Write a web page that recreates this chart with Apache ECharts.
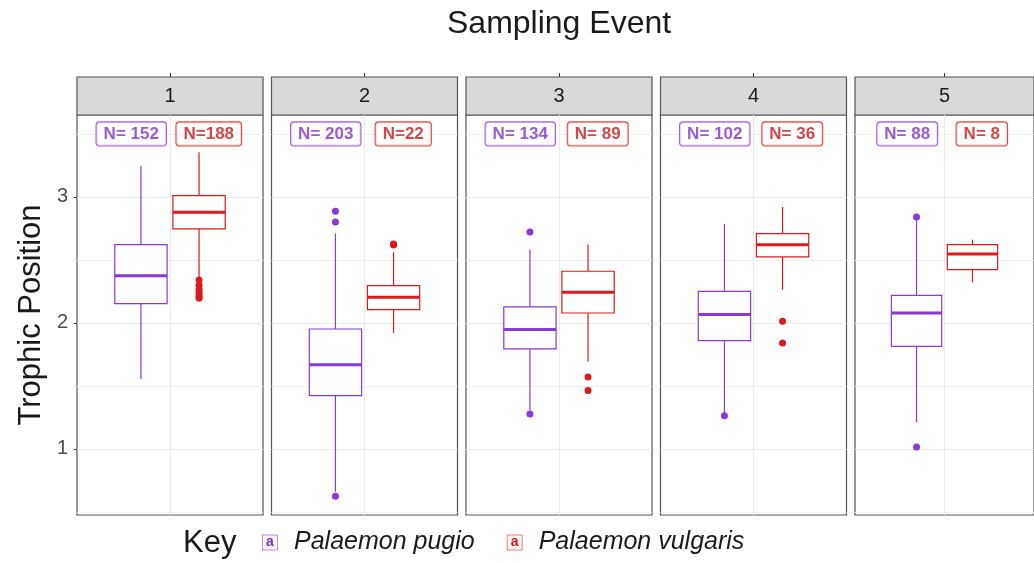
<!DOCTYPE html>
<html>
<head>
<meta charset="utf-8">
<script src="https://cdn.jsdelivr.net/npm/echarts@6/dist/echarts.min.js"></script>
<style>
  html, body { margin: 0; padding: 0; background: #ffffff; }
  #chart { width: 1034px; height: 563px; }
</style>
</head>
<body>
<div id="chart"></div>
<script>
// Facets (sampling events) and species
const events = ['1', '2', '3', '4', '5'];
const species = ['Palaemon pugio', 'Palaemon vulgaris'];

// Box summaries per event: [lower whisker, Q1, median, Q3, upper whisker]
const pugioBoxes = [
  [1.556, 2.153, 2.375, 2.621, 3.248],
  [0.660, 1.423, 1.669, 1.952, 2.709],
  [1.305, 1.794, 1.947, 2.127, 2.582],
  [1.285, 1.859, 2.066, 2.251, 2.786],
  [1.211, 1.814, 2.079, 2.219, 2.815]
];
const vulgarisBoxes = [
  [2.360, 2.746, 2.878, 3.010, 3.354],
  [1.920, 2.106, 2.203, 2.296, 2.560],
  [1.695, 2.079, 2.243, 2.410, 2.622],
  [2.264, 2.524, 2.621, 2.709, 2.920],
  [2.322, 2.423, 2.548, 2.621, 2.661]
];

// Outlying trophic positions per event
const pugioOutliers = [
  [],
  [2.886, 2.800, 0.624],
  [2.722, 1.278],
  [1.264],
  [2.841, 1.016]
];
const vulgarisOutliers = [
  [2.340, 2.300, 2.270, 2.250, 2.230, 2.210, 2.195],
  [2.627, 2.618],
  [1.571, 1.463],
  [2.013, 1.841],
  []
];

// Sample size labels
const pugioN = ['N= 152', 'N= 203', 'N= 134', 'N= 102', 'N= 88'];
const vulgarisN = ['N=188', 'N=22', 'N= 89', 'N= 36', 'N= 8'];

// Y axis ticks
const yTicks = [1, 2, 3];
const yMinorTicks = [0.5, 1.5, 2.5, 3.5];

// ---- layout and style ----
const FONT = '"Liberation Sans", Arial, Helvetica, sans-serif';
const PURPLE = '#8A38D6';
const RED = '#DC1A1C';
const PURPLE_TEXT = '#7E32C8';
const RED_TEXT = '#CC1619';
const PANEL_LEFT0 = 77, PANEL_STEP = 194.5, PANEL_W = 186;
const PANEL_TOP = 115, PANEL_H = 400;
const STRIP_TOP = 77, STRIP_H = 38;
const X_MIN = 0.4, X_MAX = 1.6;
const Y_MIN = 0.476, Y_MAX = 3.65;
const DODGE = 0.1875, BOX_WIDTH = 0.3375, LABEL_DODGE = 0.25, LABEL_Y = 3.5;
const BORDER = '#555555';

const colors = [PURPLE, RED];
const textColors = [PURPLE_TEXT, RED_TEXT];
const boxes = [pugioBoxes, vulgarisBoxes];
const outliers = [pugioOutliers, vulgarisOutliers];
const nLabels = [pugioN, vulgarisN];
const nPanels = events.length;

function renderBox(params, api) {
  const x = api.value(0);
  const lo = api.coord([x, api.value(1)]);
  const q1 = api.coord([x, api.value(2)]);
  const md = api.coord([x, api.value(3)]);
  const q3 = api.coord([x, api.value(4)]);
  const hi = api.coord([x, api.value(5)]);
  const w = api.size([BOX_WIDTH, 0])[0];
  const color = api.visual('color');
  const thin = { stroke: color, lineWidth: 1.2 };
  return {
    type: 'group',
    children: [
      { type: 'line', shape: { x1: lo[0], y1: lo[1], x2: q1[0], y2: q1[1] }, style: thin },
      { type: 'line', shape: { x1: q3[0], y1: q3[1], x2: hi[0], y2: hi[1] }, style: thin },
      { type: 'rect', shape: { x: q3[0] - w / 2, y: q3[1], width: w, height: q1[1] - q3[1] },
        style: { fill: '#ffffff', stroke: color, lineWidth: 1.2 } },
      { type: 'line', shape: { x1: md[0] - w / 2, y1: md[1], x2: md[0] + w / 2, y2: md[1] },
        style: { stroke: color, lineWidth: 3 } }
    ]
  };
}

const grid = [], xAxis = [], yAxis = [], series = [];

for (let i = 0; i < nPanels; i++) {
  const left = PANEL_LEFT0 + i * PANEL_STEP;
  // plotting panel
  grid.push({ left: left, top: PANEL_TOP, width: PANEL_W, height: PANEL_H,
    show: true, backgroundColor: '#ffffff', borderColor: BORDER, borderWidth: 1.2 });
}
for (let i = 0; i < nPanels; i++) {
  const left = PANEL_LEFT0 + i * PANEL_STEP;
  // facet strip
  grid.push({ left: left, top: STRIP_TOP, width: PANEL_W, height: STRIP_H,
    show: true, backgroundColor: '#d9d9d9', borderColor: BORDER, borderWidth: 1.2 });
}

for (let i = 0; i < nPanels; i++) {
  xAxis.push({
    gridIndex: i, type: 'value', min: X_MIN, max: X_MAX,
    axisLine: { show: false },
    axisTick: { show: false, customValues: [1] },
    axisLabel: { show: false },
    splitLine: { show: true, lineStyle: { color: '#ebebeb', width: 1 } }
  });
}
for (let i = 0; i < nPanels; i++) {
  xAxis.push({
    gridIndex: nPanels + i, type: 'category', position: 'top', data: [events[i]],
    axisLine: { show: false, onZero: false },
    axisTick: { show: true, alignWithLabel: true, length: 4, lineStyle: { color: '#333333', width: 1 } },
    axisLabel: { show: true, inside: true, margin: 9, fontSize: 20, color: '#1a1a1a', fontFamily: FONT },
    splitLine: { show: false }
  });
}

for (let i = 0; i < nPanels; i++) {
  yAxis.push({
    gridIndex: i, type: 'value', min: Y_MIN, max: Y_MAX, position: 'left',
    axisLine: { show: false },
    axisTick: { show: i === 0, customValues: yTicks, length: 3, lineStyle: { color: '#333333' } },
    axisLabel: { show: i === 0, customValues: yTicks, fontSize: 20, color: '#4d4d4d', margin: 9, fontFamily: FONT },
    splitLine: { show: true, lineStyle: { color: '#ebebeb', width: 1 } },
    name: i === 0 ? 'Trophic Position' : '',
    nameLocation: 'middle', nameGap: 30,
    nameTextStyle: { fontSize: 31, color: '#1a1a1a', fontFamily: FONT }
  });
}
for (let i = 0; i < nPanels; i++) {
  // minor grid lines
  yAxis.push({
    gridIndex: i, type: 'value', min: Y_MIN, max: Y_MAX, position: 'left',
    axisLine: { show: false },
    axisTick: { show: false, customValues: yMinorTicks },
    axisLabel: { show: false },
    splitLine: { show: true, lineStyle: { color: '#f0f0f0', width: 1 } }
  });
}
for (let i = 0; i < nPanels; i++) {
  yAxis.push({ gridIndex: nPanels + i, type: 'value', show: false });
}

for (let i = 0; i < nPanels; i++) {
  for (let s = 0; s < species.length; s++) {
    const xPos = 1 + (s === 0 ? -DODGE : DODGE);
    const b = boxes[s][i];
    series.push({
      name: species[s], type: 'custom', xAxisIndex: i, yAxisIndex: i,
      itemStyle: { color: colors[s] },
      encode: { x: 0, y: [1, 2, 3, 4, 5] },
      renderItem: renderBox,
      data: [[xPos, b[0], b[1], b[2], b[3], b[4]]],
      z: 3
    });
    series.push({
      name: species[s], type: 'scatter', xAxisIndex: i, yAxisIndex: i,
      symbolSize: 7, itemStyle: { color: colors[s], opacity: 1 },
      data: outliers[s][i].map(v => [xPos, v]),
      z: 4
    });
    const lx = 1 + (s === 0 ? -LABEL_DODGE : LABEL_DODGE);
    series.push({
      name: species[s], type: 'scatter', xAxisIndex: i, yAxisIndex: i,
      symbolSize: 0, itemStyle: { color: 'rgba(0,0,0,0)' },
      data: [{ name: nLabels[s][i], value: [lx, LABEL_Y] }],
      label: {
        show: true, position: 'inside', formatter: '{b}',
        fontSize: 17, fontWeight: 'bold', color: textColors[s], fontFamily: FONT,
        backgroundColor: '#ffffff', borderColor: colors[s], borderWidth: 1.1,
        borderRadius: 3, padding: [3, 7, 2, 7], lineHeight: 18
      },
      z: 5
    });
  }
}

const chart = echarts.init(document.getElementById('chart'), null, { renderer: 'canvas' });
chart.setOption({
  animation: false,
  backgroundColor: '#ffffff',
  textStyle: { fontFamily: FONT },
  title: [
    { text: 'Sampling Event', left: 447, top: 8, padding: 0,
      textStyle: { fontSize: 32, fontWeight: 'normal', color: '#1a1a1a', fontFamily: FONT } },
    { text: 'Key', left: 183, top: 528, padding: 0,
      textStyle: { fontSize: 31, fontWeight: 'normal', color: '#1a1a1a', fontFamily: FONT } }
  ],
  legend: {
    left: 258, top: 530, padding: 0, itemWidth: 0, itemHeight: 0, itemGap: 28,
    selectedMode: false, data: species,
    formatter: name => (name === species[0] ? '{kp|a}' : '{kv|a}') + '{n|' + name + '}',
    textStyle: {
      rich: {
        kp: { width: 14, height: 14, lineHeight: 14, align: 'center', fontSize: 14, fontWeight: 'bold',
              color: PURPLE_TEXT, borderColor: '#b58be6', borderWidth: 1, backgroundColor: '#faf5ff', fontFamily: FONT },
        kv: { width: 14, height: 14, lineHeight: 14, align: 'center', fontSize: 14, fontWeight: 'bold',
              color: RED_TEXT, borderColor: '#e88080', borderWidth: 1, backgroundColor: '#fff5f5', fontFamily: FONT },
        n: { fontSize: 25, fontStyle: 'italic', color: '#1a1a1a', padding: [0, 0, 0, 17], fontFamily: FONT }
      }
    }
  },
  grid: grid,
  xAxis: xAxis,
  yAxis: yAxis,
  series: series
});
</script>
</body>
</html>
